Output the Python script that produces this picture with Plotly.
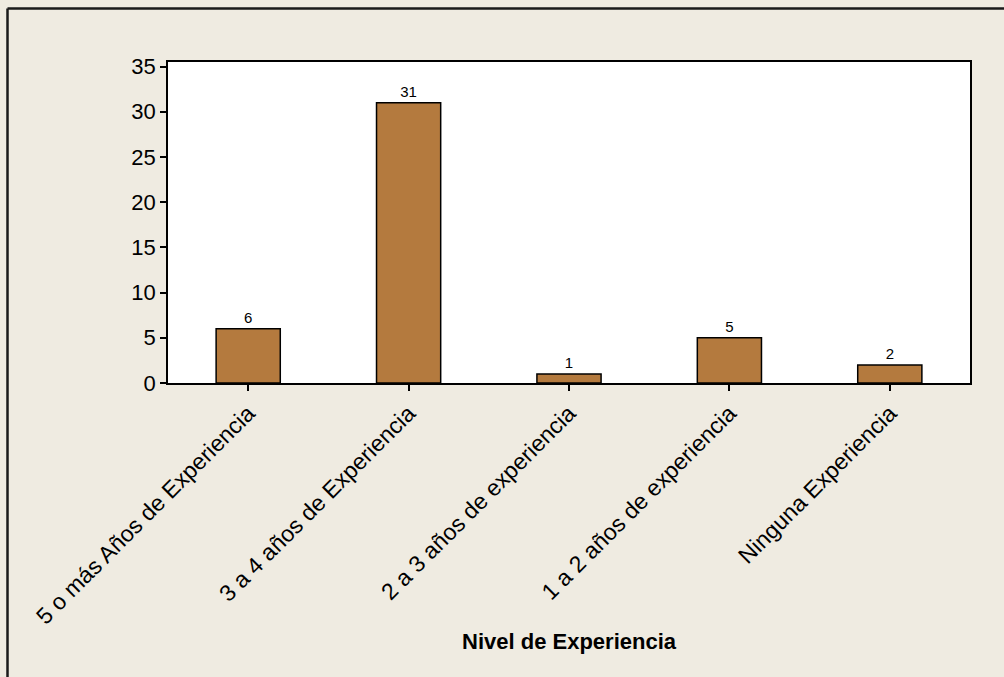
import plotly.graph_objects as go

categories = ["5 o más Años de Experiencia", "3 a 4 años de Experiencia",
              "2 a 3 años de experiencia", "1 a 2 años de experiencia",
              "Ninguna Experiencia"]
counts = [6, 31, 1, 5, 2]
y_ticks = [0, 5, 10, 15, 20, 25, 30, 35]
x_title = "Nivel de Experiencia"

FONT = "Liberation Sans, Arial, sans-serif"
L, R, T, B = 168, 34, 62, 294
W, H = 1004, 677
pw, ph = W - L - R, H - T - B

fig = go.Figure(go.Bar(
    x=categories, y=counts, width=0.4,
    marker=dict(color="#B47A3E", line=dict(color="black", width=1.5)),
    text=[str(c) for c in counts], textposition="outside",
    textfont=dict(family=FONT, size=15, color="black"),
    cliponaxis=False,
))

fig.update_layout(
    width=W, height=H,
    margin=dict(l=L, r=R, t=T, b=B),
    paper_bgcolor="#EFEBE1", plot_bgcolor="white",
    showlegend=False,
    font=dict(family=FONT, color="black"),
)
fig.update_xaxes(
    showline=True, linecolor="black", linewidth=1.5, mirror=True,
    ticks="outside", ticklen=6, tickcolor="black", tickwidth=1.5,
    tickangle=-45, tickfont=dict(size=23, family=FONT),
    showgrid=False,
)
fig.update_yaxes(
    range=[0, 35.5], tickvals=y_ticks,
    showline=True, linecolor="black", linewidth=1.5, mirror=True,
    ticks="outside", ticklen=6, tickcolor="black", tickwidth=1.5,
    tickfont=dict(size=22, family=FONT),
    showgrid=False, zeroline=False,
)
fig.add_annotation(
    text="<b>" + x_title + "</b>", xref="paper", yref="paper",
    x=0.5, y=(383 - 641) / ph, xanchor="center", yanchor="middle",
    showarrow=False, font=dict(size=22, family=FONT, color="black"),
)
# outer frame (left/top edges visible)
x0 = (7.5 - L) / pw
y1 = (383 - 8.5) / ph
fig.add_shape(type="line", xref="paper", yref="paper", x0=x0, x1=x0,
              y0=(383 - 700) / ph, y1=y1, line=dict(color="#1a1a1a", width=2.5))
fig.add_shape(type="line", xref="paper", yref="paper", x0=x0, x1=(1020 - L) / pw,
              y0=y1, y1=y1, line=dict(color="#1a1a1a", width=2.5))

fig.write_html("out.html", config={"displayModeBar": False},
               post_script="document.body.style.margin='0';document.body.style.overflow='hidden';")
